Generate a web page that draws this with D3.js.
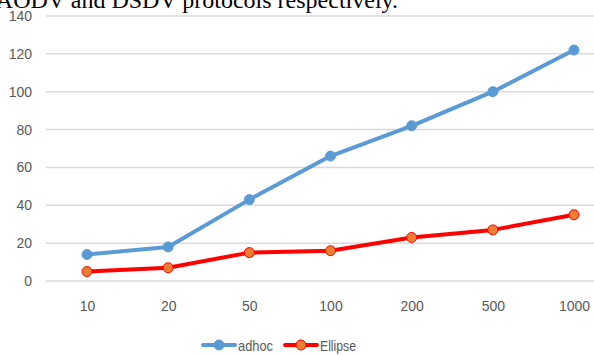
<!DOCTYPE html>
<html>
<head>
<meta charset="utf-8">
<script src="https://cdn.jsdelivr.net/npm/d3@7"></script>
<style>
  html, body { margin: 0; padding: 0; background: #fff; overflow: hidden; }
  svg { display: block; }
</style>
</head>
<body>
<svg id="chart" width="594" height="355"></svg>
<script>
// Node counts along the x axis
const categories = ["10", "20", "50", "100", "200", "500", "1000"];
// Series values
const adhocValues = [14, 18, 43, 66, 82, 100, 122];
const ellipseValues = [5, 7, 15, 16, 23, 27, 35];
// Y-axis ticks
const yTicks = [0, 20, 40, 60, 80, 100, 120, 140];

const svg = d3.select("#chart");
const W = 594, H = 355;

// Caption line from the surrounding text, partly cut at the top
svg.append("text")
  .attr("x", 398).attr("y", 8)
  .attr("text-anchor", "end")
  .attr("font-family", "'Liberation Serif', 'Times New Roman', serif")
  .attr("font-size", 24)
  .attr("fill", "#000")
  .text("AODV and DSDV protocols respectively.");

const x = d3.scalePoint().domain(categories).range([87, 574]);
const y = d3.scaleLinear().domain([0, 140]).range([281, 16]);

// Gridlines
svg.append("g")
  .selectAll("line")
  .data(yTicks)
  .join("line")
  .attr("x1", 46).attr("x2", W)
  .attr("y1", d => y(d)).attr("y2", d => y(d))
  .attr("stroke", "#d9d9d9")
  .attr("stroke-width", 1.5);

// Y axis labels
const yAxis = d3.axisLeft(y).tickValues(yTicks).tickSize(0).tickPadding(0);
const gy = svg.append("g").attr("transform", "translate(32,0)").call(yAxis);
gy.select(".domain").remove();
gy.selectAll("text")
  .attr("font-family", "'Liberation Sans', Arial, sans-serif")
  .attr("font-size", 14)
  .attr("fill", "#595959");

// X axis labels
const xAxis = d3.axisBottom(x).tickSize(0).tickPadding(0);
const gx = svg.append("g").attr("transform", "translate(0,301)").call(xAxis);
gx.select(".domain").remove();
gx.selectAll("text")
  .attr("font-family", "'Liberation Sans', Arial, sans-serif")
  .attr("font-size", 14)
  .attr("fill", "#595959");

const line = d3.line().x((d, i) => x(categories[i])).y(d => y(d));

const series = [
  { name: "adhoc", values: adhocValues, stroke: "#5b9bd5", fill: "#5b9bd5", mstroke: "#5b9bd5", textLen: 35 },
  { name: "Ellipse", values: ellipseValues, stroke: "#ff0000", fill: "#ed7d31", mstroke: "#ff0000", textLen: 36 }
];

series.forEach(s => {
  svg.append("path")
    .datum(s.values)
    .attr("d", line)
    .attr("fill", "none")
    .attr("stroke", s.stroke)
    .attr("stroke-width", 4)
    .attr("stroke-linejoin", "round")
    .attr("stroke-linecap", "round");
  svg.append("g")
    .selectAll("circle")
    .data(s.values)
    .join("circle")
    .attr("cx", (d, i) => x(categories[i]))
    .attr("cy", d => y(d))
    .attr("r", 5)
    .attr("fill", s.fill)
    .attr("stroke", s.mstroke)
    .attr("stroke-width", 1);
});

// Legend
const legend = svg.append("g").attr("transform", "translate(0,345)");
const legendX = [203, 285];
series.forEach((s, i) => {
  const g = legend.append("g").attr("transform", `translate(${legendX[i]},0)`);
  g.append("line").attr("x1", 0).attr("x2", 32).attr("y1", 0).attr("y2", 0)
    .attr("stroke", s.stroke).attr("stroke-width", 4).attr("stroke-linecap", "round");
  g.append("circle").attr("cx", 16).attr("cy", 0).attr("r", 5)
    .attr("fill", s.fill).attr("stroke", s.mstroke).attr("stroke-width", 1);
  g.append("text").attr("x", 35).attr("y", 6)
    .attr("font-family", "'Liberation Sans', Arial, sans-serif")
    .attr("font-size", 15)
    .attr("textLength", s.textLen)
    .attr("lengthAdjust", "spacingAndGlyphs")
    .attr("fill", "#595959")
    .text(s.name);
});
</script>
</body>
</html>
